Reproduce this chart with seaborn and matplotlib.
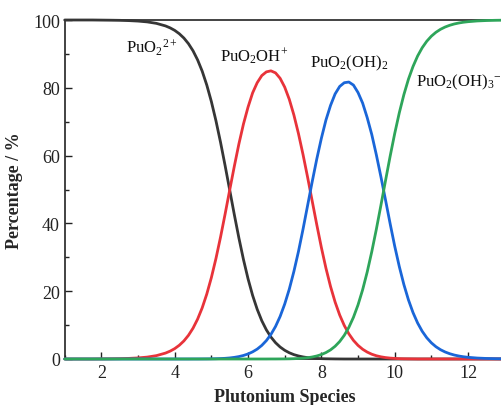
import matplotlib
matplotlib.use("Agg")
import matplotlib.pyplot as plt
from matplotlib.ticker import MultipleLocator
import seaborn as sns
import pandas as pd

# pH grid and species percentages
ph = [1.0, 1.25, 1.5, 1.75, 2.0, 2.25, 2.5, 2.75, 3.0, 3.25, 3.5, 3.75,
      3.875, 4.0, 4.125, 4.25, 4.375, 4.5, 4.625, 4.75, 4.875, 5.0,
      5.125, 5.25, 5.375, 5.5, 5.625, 5.75, 5.875, 6.0, 6.125, 6.25,
      6.375, 6.5, 6.625, 6.75, 6.875, 7.0, 7.125, 7.25, 7.375, 7.5,
      7.625, 7.75, 7.875, 8.0, 8.125, 8.25, 8.375, 8.5, 8.625, 8.75,
      8.875, 9.0, 9.125, 9.25, 9.375, 9.5, 9.625, 9.75, 9.875, 10.0,
      10.125, 10.25, 10.375, 10.5, 10.625, 10.75, 10.875, 11.0, 11.125, 11.25,
      11.375, 11.5, 11.625, 11.75, 11.875,
      12.0, 12.25, 12.5, 12.75, 13.0]

puo2 = [100, 100, 100, 100, 99.97, 99.94, 99.9, 99.82, 99.68, 99.44, 99.01, 98.25,
        97.68, 96.94, 95.95, 94.68, 93.02, 90.91, 88.22, 84.9, 80.81, 75.94,
        70.28, 63.93, 57.03, 49.84, 42.64, 35.74, 29.36, 23.67, 18.76, 14.66,
        11.29, 8.6, 6.47, 4.81, 3.54, 2.57, 1.84, 1.29, 0.9, 0.61,
        0.4, 0.26, 0.17, 0.1, 0.06, 0.04, 0.02, 0.01, 0, 0,
        0, 0, 0, 0, 0, 0, 0, 0, 0, 0,
        0, 0, 0, 0, 0, 0, 0, 0, 0, 0,
        0, 0, 0, 0, 0,
        0, 0, 0, 0, 0]

puo2oh = [0, 0, 0, 0, 0.03, 0.06, 0.1, 0.18, 0.32, 0.56, 0.99, 1.75,
          2.32, 3.06, 4.05, 5.32, 6.98, 9.09, 11.77, 15.09, 19.16, 24.01,
          29.64, 35.95, 42.77, 49.84, 56.8, 63.4, 69.3, 74.3, 78.5, 81.5,
          83.6, 84.7, 85.0, 84.4, 82.8, 80.2, 76.6, 72.0, 66.5, 60.3,
          53.6, 46.6, 39.6, 32.9, 26.78, 21.39, 16.79, 12.97, 9.88, 7.42,
          5.49, 4.01, 2.88, 2.04, 1.41, 0.96, 0.64, 0.42, 0.27, 0.17,
          0.1, 0.06, 0.04, 0.02, 0, 0, 0, 0, 0, 0,
          0, 0, 0, 0, 0,
          0, 0, 0, 0, 0]

puo2oh2 = [0, 0, 0, 0, 0, 0, 0, 0, 0, 0, 0, 0,
           0, 0, 0, 0, 0, 0.01, 0.01, 0.02, 0.03, 0.05,
           0.08, 0.13, 0.2, 0.31, 0.48, 0.71, 1.04, 1.49, 2.11, 2.92,
           4.01, 5.43, 7.26, 9.6, 12.55, 16.2, 20.6, 25.8, 31.7, 38.3,
           45.3, 52.3, 59.0, 65.1, 70.5, 74.8, 78.2, 80.4, 81.5, 81.7,
           80.8, 78.6, 75.5, 71.2, 66.2, 60.2, 53.7, 46.9, 39.95, 33.3,
           27.29, 21.97, 17.44, 13.68, 10.62, 8.18, 6.26, 4.77, 3.62, 2.74,
           2.07, 1.56, 1.17, 0.88, 0.66,
           0.5, 0.28, 0.16, 0.09, 0.05]

puo2oh3 = [0, 0, 0, 0, 0, 0, 0, 0, 0, 0, 0, 0,
           0, 0, 0, 0, 0, 0, 0, 0, 0, 0,
           0, 0, 0, 0, 0, 0, 0, 0, 0, 0,
           0, 0, 0.01, 0.01, 0.02, 0.03, 0.05, 0.09, 0.15, 0.24,
           0.38, 0.59, 0.89, 1.31, 1.9, 2.69, 3.76, 5.16, 6.99, 9.34,
           12.3, 15.97, 20.41, 25.66, 31.67, 38.31, 45.4, 52.65, 59.78, 66.5,
           72.61, 77.97, 82.54, 86.3, 89.38, 91.82, 93.74, 95.23, 96.38, 97.26,
           97.93, 98.44, 98.83, 99.12, 99.34,
           99.5, 99.72, 99.84, 99.91, 99.95]

species = ["PuO$_2$$^{2+}$", "PuO$_2$OH$^{+}$", "PuO$_2$(OH)$_2$", "PuO$_2$(OH)$_3$$^{-}$"]
values = [puo2, puo2oh, puo2oh2, puo2oh3]
colors = ["#363636", "#e8333a", "#1a66d8", "#2ea55a"]

sns.set_style("ticks")
plt.rcParams["font.family"] = ["Liberation Serif", "DejaVu Serif"]
plt.rcParams["mathtext.fontset"] = "stix"
plt.rcParams["mathtext.default"] = "regular"

fig = plt.figure(figsize=(5.01, 4.06), dpi=100)
ax = fig.add_axes([64.7 / 501, 1 - 360 / 406, 440 / 501, 339 / 406])

for name, vals, col in zip(species, values, colors):
    df = pd.DataFrame({"pH": ph, "pct": vals})
    sns.lineplot(data=df, x="pH", y="pct", color=col, lw=2, ax=ax,
                 clip_on=False, zorder=3, solid_joinstyle="round",
                 solid_capstyle="round")

ax.set_xlim(1, 13)
ax.set_ylim(0, 100)
ax.xaxis.set_major_locator(MultipleLocator(2))
ax.xaxis.set_minor_locator(MultipleLocator(1))
ax.yaxis.set_major_locator(MultipleLocator(20))
ax.yaxis.set_minor_locator(MultipleLocator(10))
ax.tick_params(which="both", direction="in", labelsize=13, colors="#222222")
ax.tick_params(which="major", length=5, width=1)
ax.tick_params(which="minor", length=3, width=1)
for s in ax.spines.values():
    s.set_color("#222222")
    s.set_linewidth(1.2)

ax.set_xlabel("Plutonium Species", fontsize=13, fontweight="bold", labelpad=5)
ax.set_ylabel("Percentage / %", fontsize=13, fontweight="bold", labelpad=7)

lbl_x = [2.67, 5.24, 7.69, 10.58]
lbl_y = [92, 89.4, 87.6, 82]
for name, lx, ly in zip(species, lbl_x, lbl_y):
    ax.text(lx, ly, name, fontsize=12, ha="left", va="center", color="#111111")

fig.savefig("out.png", dpi=100)
